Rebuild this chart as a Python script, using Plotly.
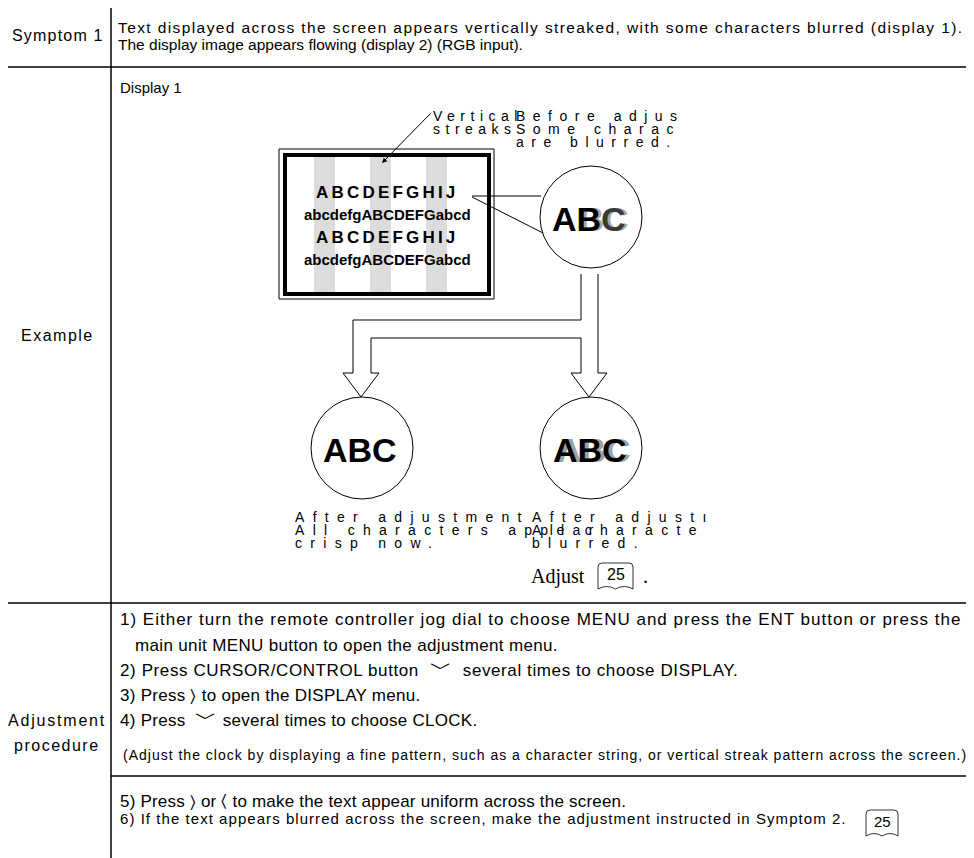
import plotly.graph_objects as go

W, H = 974, 858
PAD = 8  # default body margin of the html page
FONT = "Liberation Sans, Arial, sans-serif"
SERIF = "Liberation Serif, Times New Roman, serif"

# row labels (left column)
row_labels = ["Symptom 1", "Example", "Adjustment", "procedure"]
symptom_lines = [
    "Text displayed across the screen appears vertically streaked, with some characters blurred (display 1).",
    "The display image appears flowing (display 2) (RGB input).",
]
screen_lines = ["ABCDEFGHIJ", "abcdefgABCDEFGabcd", "ABCDEFGHIJ", "abcdefgABCDEFGabcd"]
streak_label = ["Vertical", "streaks"]
before_label = ["Before adjus", "Some charac", "are blurred."]
after_ok_label = ["After adjustment", "All characters appear", "crisp now."]
after_bad_label = ["After adjust\u0131", "All characte", "blurred."]
DOWN = "<span style='font-size:22px'>\ufe40</span>"
steps = [
    "1) Either turn the remote controller jog dial to choose MENU and press the ENT button or press the",
    "main unit MENU button to open the adjustment menu.",
    f"2) Press CURSOR/CONTROL button&nbsp;&nbsp;{DOWN}&nbsp;&nbsp;several times to choose DISPLAY.",
    "3) Press \u232a to open the DISPLAY menu.",
    f"4) Press &nbsp;{DOWN} several times to choose CLOCK.",
]
note = "(Adjust the clock by displaying a fine pattern, such as a character string, or vertical streak pattern across the screen.)"
steps_2 = [
    "5) Press \u232a or \u2329 to make the text appear uniform across the screen.",
    "6) If the text appears blurred across the screen, make the adjustment instructed in Symptom 2.",
]
page_ref = "25"

fig = go.Figure()
shapes = []
ann = []


def line(x0, y0, x1, y1, w=1.0, color="#000"):
    shapes.append(dict(type="line", x0=x0, y0=y0, x1=x1, y1=y1, line=dict(color=color, width=w)))


def text(x, y, s, size=15, anchor="left", family=FONT, color="#000", spacing=None):
    if spacing is not None:
        s = f"<span style='letter-spacing:{spacing}px'>{s}</span>"
    ann.append(dict(x=x, y=y, text=s, showarrow=False, xanchor=anchor, yanchor="middle",
                    font=dict(family=family, size=size, color=color)))


def book(x0, y0, x1, y1, size=15):
    xm = (x0 + x1) / 2
    p = (f"M {x0} {y1} L {x0} {y0 + 4} Q {x0} {y0} {x0 + 4} {y0} L {x1 - 4} {y0} "
         f"Q {x1} {y0} {x1} {y0 + 4} L {x1} {y1} Q {(x1 + xm) / 2} {y1 - 5} {xm} {y1} "
         f"Q {(x0 + xm) / 2} {y1 - 5} {x0} {y1}")
    shapes.append(dict(type="path", path=p, line=dict(color="#000", width=0.8)))
    text(xm, (y0 + y1) / 2 - 2, page_ref, size=size, anchor="center")


# table grid
line(4, 3, 971, 3, 1.5)
line(4, 3, 4, H, 1.5)
line(970.5, 3, 970.5, H, 1.5)
line(111, 3, 111, H, 1.5)
line(4, 67, 971, 67, 1.5)
line(4, 603, 971, 603, 1.5)
line(111, 776, 971, 776, 1.5)

text(58, 35, row_labels[0], size=16, anchor="center", spacing=1.2)
text(57, 335, row_labels[1], size=16, anchor="center", spacing=1.5)
text(57, 720, row_labels[2], size=16, anchor="center", spacing=1.8)
text(57, 745, row_labels[3], size=16, anchor="center", spacing=1.5)
text(116, 27, symptom_lines[0], size=15.5, spacing=1.4)
text(116, 44, symptom_lines[1], size=15.5, spacing=0)
text(118, 87, "Display 1", size=15)

# monitor with streaks
for sx in (314, 370, 426):
    shapes.append(dict(type="rect", x0=sx, x1=sx + 21, y0=156, y1=293, fillcolor="#dcdcdc",
                       line=dict(width=0), layer="below"))
shapes.append(dict(type="rect", x0=279, x1=494, y0=149, y1=299, line=dict(color="#000", width=1)))
shapes.append(dict(type="rect", x0=285, x1=489, y0=155, y1=294, line=dict(color="#000", width=4)))
for i, s in enumerate(screen_lines):
    if i % 2 == 0:
        text(387, 192 + 22.5 * i, f"<b>{s}</b>", size=17, anchor="center", spacing=3.2)
    else:
        text(387, 192 + 22.5 * i, f"<b>{s}</b>", size=15, anchor="center")

# leader lines to magnified circle
line(472, 196, 541, 196)
line(472, 197, 543, 233)
ann.append(dict(x=382, y=163, ax=432, ay=112, axref="x", ayref="y", xref="x", yref="y", text="",
                showarrow=True, arrowhead=2, arrowsize=1, arrowwidth=1, arrowcolor="#000"))

for i, s in enumerate(streak_label):
    text(431, 116 + 13 * i, s, size=14, spacing=5.5)
for i, s in enumerate(before_label):
    text(514, 116 + 13 * i, s, size=14, spacing=7.5)

# circles
circles = [(591, 217), (362, 448), (591, 448)]
for cx, cy in circles:
    shapes.append(dict(type="circle", x0=cx - 51, x1=cx + 51, y0=cy - 51, y1=cy + 51,
                       line=dict(color="#000", width=1)))
# blurred shadows
text(589 + 3, 219, "<b><span style='color:rgba(0,0,0,0)'>A</span>BC</b>", size=34, anchor="center", color="#a8a8a8")
text(591 + 3, 450, "<b>ABC</b>", size=34, anchor="center", color="#a0a0a0")
text(589, 219, "<b>AB<span style='color:#3a3a3a'>C</span></b>", size=34, anchor="center")
text(360, 450, "<b>ABC</b>", size=34, anchor="center")
text(590, 450, "<b>ABC</b>", size=34, anchor="center")

# hollow branching arrows
arrow = ("M 581 274 L 581 320 L 353 320 L 353 373 L 343 373 L 361 397 L 379 373 L 371 373 "
         "L 371 338 L 581 338 L 581 373 L 571 373 L 589 397 L 607 373 L 598 373 L 598 274")
shapes.append(dict(type="path", path=arrow, line=dict(color="#000", width=1)))

for i, s in enumerate(after_ok_label):
    text(293, 517 + 13 * i, s, size=14, spacing=8.3)
for i, s in enumerate(after_bad_label):
    text(530, 517 + 13 * i, s, size=14, spacing=8.3)
text(529, 576, "Adjust", size=20, family=SERIF)
book(598, 563, 633, 589, size=16)
text(641, 576, ".", size=20, family=SERIF)

# procedure
text(118, 619, steps[0], size=17, spacing=1.0)
text(133, 645, steps[1], size=17, spacing=0.35)
text(118, 668, steps[2], size=17, spacing=0.6)
text(118, 695, steps[3], size=17, spacing=0.27)
text(118, 718, steps[4], size=17, spacing=0.27)
text(121, 755, note, size=14, spacing=1.0)
text(118, 801, steps_2[0], size=17, spacing=0.2)
text(118, 818, steps_2[1], size=15, spacing=1.05)
book(866, 810, 898, 836)

fig.update_layout(
    width=W - PAD, height=H - PAD,
    margin=dict(l=0, r=0, t=0, b=0),
    paper_bgcolor="white", plot_bgcolor="white",
    shapes=shapes, annotations=ann, showlegend=False,
)
fig.update_xaxes(range=[PAD, W], visible=False, fixedrange=True)
fig.update_yaxes(range=[H, PAD], visible=False, fixedrange=True)
fig.write_html("out.html", config={"displayModeBar": False})
